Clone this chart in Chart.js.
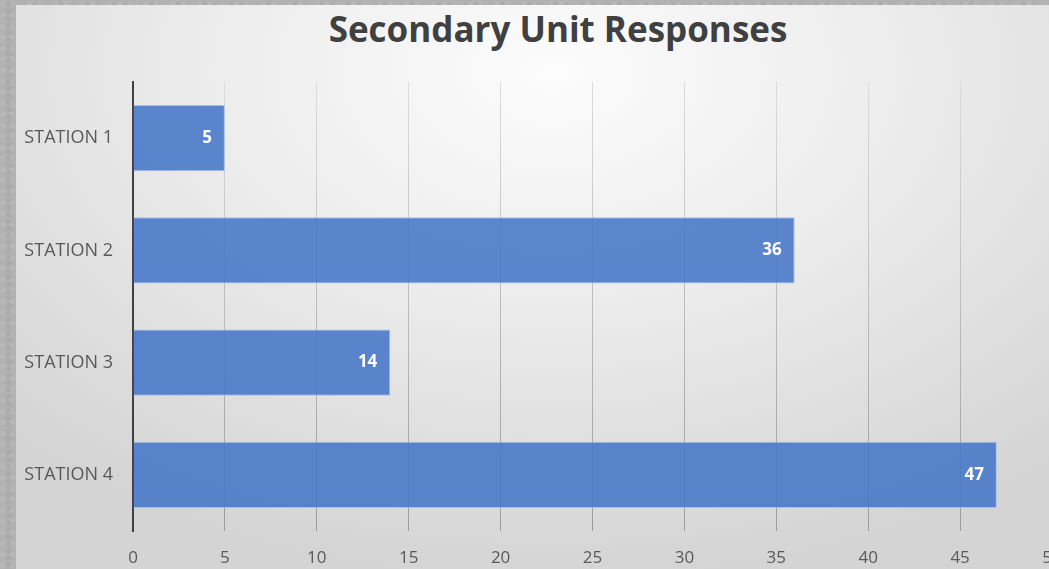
<!DOCTYPE html>
<html>
<head>
<meta charset="utf-8">
<script src="https://cdn.jsdelivr.net/npm/chart.js@4"></script>
<style>
  html, body { margin: 0; padding: 0; width: 1049px; height: 569px; overflow: hidden; }
  body {
    position: relative;
    background:
      radial-gradient(circle at 30% 40%, rgba(255,255,255,0.12) 0, rgba(255,255,255,0) 4px) 0 0 / 9px 11px,
      radial-gradient(circle at 70% 70%, rgba(0,0,0,0.06) 0, rgba(0,0,0,0) 5px) 0 0 / 13px 7px,
      #b2b2b2;
  }
  #panel {
    position: absolute; left: 16px; top: 5px; right: 0; bottom: 0;
    background: radial-gradient(ellipse 75% 90% at 52% 12%, #fcfcfc 0%, #ececec 45%, #d4d4d4 100%);
  }
  #title {
    position: absolute; left: 0; width: 1116px; top: 5px;
    text-align: center; font: bold 35px "Open Sans", sans-serif; color: #404040;
  }
  #wrap { position: absolute; left: 0; top: 0; width: 1100px; height: 569px; }
</style>
</head>
<body>
<div id="panel"></div>
<div id="title">Secondary Unit Responses</div>
<div id="wrap"><canvas id="chart"></canvas></div>
<script>
const stations = ['STATION 1', 'STATION 2', 'STATION 3', 'STATION 4'];
const responses = [5, 36, 14, 47];
const xTicks = [0, 5, 10, 15, 20, 25, 30, 35, 40, 45, 50];

const barLabels = {
  id: 'barLabels',
  afterDatasetsDraw(chart) {
    const ctx = chart.ctx;
    const meta = chart.getDatasetMeta(0);
    ctx.save();
    ctx.font = 'bold 17px "Open Sans", sans-serif';
    ctx.fillStyle = '#ffffff';
    ctx.textAlign = 'right';
    ctx.textBaseline = 'middle';
    meta.data.forEach((bar, i) => {
      ctx.fillText(String(responses[i]), bar.x - 13, bar.y);
    });
    ctx.restore();
  }
};

new Chart(document.getElementById('chart'), {
  type: 'bar',
  data: {
    labels: stations,
    datasets: [{
      data: responses,
      backgroundColor: 'rgba(70,118,200,0.88)',
      borderColor: 'rgba(160,188,232,0.9)',
      borderWidth: 1,
      categoryPercentage: 1,
      barPercentage: 0.59
    }]
  },
  options: {
    indexAxis: 'y',
    responsive: true,
    maintainAspectRatio: false,
    animation: false,
    layout: { padding: { top: 82, right: 48, left: 0, bottom: 0 } },
    plugins: { legend: { display: false }, tooltip: { enabled: false } },
    scales: {
      x: {
        min: 0, max: 50,
        afterBuildTicks: s => { s.ticks = xTicks.map(v => ({ value: v })); },
        afterFit: s => { s.height = 38; },
        grid: {
          drawTicks: false,
          color: ctx => {
            const ca = ctx.chart.chartArea;
            if (!ca) return '#bbbbbb';
            const g = ctx.chart.ctx.createLinearGradient(0, ca.top, 0, ca.bottom);
            g.addColorStop(0, '#dcdcdc');
            g.addColorStop(1, '#9c9c9c');
            return g;
          },
          lineWidth: 1
        },
        border: { display: false },
        ticks: { padding: 17, color: '#595959', font: { family: '"Open Sans", sans-serif', size: 17 } }
      },
      y: {
        afterFit: s => { s.width = 133; },
        grid: { display: false, drawTicks: false },
        border: { display: true, color: '#404040', width: 2 },
        ticks: { padding: 20, color: '#595959', font: { family: '"Open Sans", sans-serif', size: 18 } }
      }
    }
  },
  plugins: [barLabels]
});
</script>
</body>
</html>
